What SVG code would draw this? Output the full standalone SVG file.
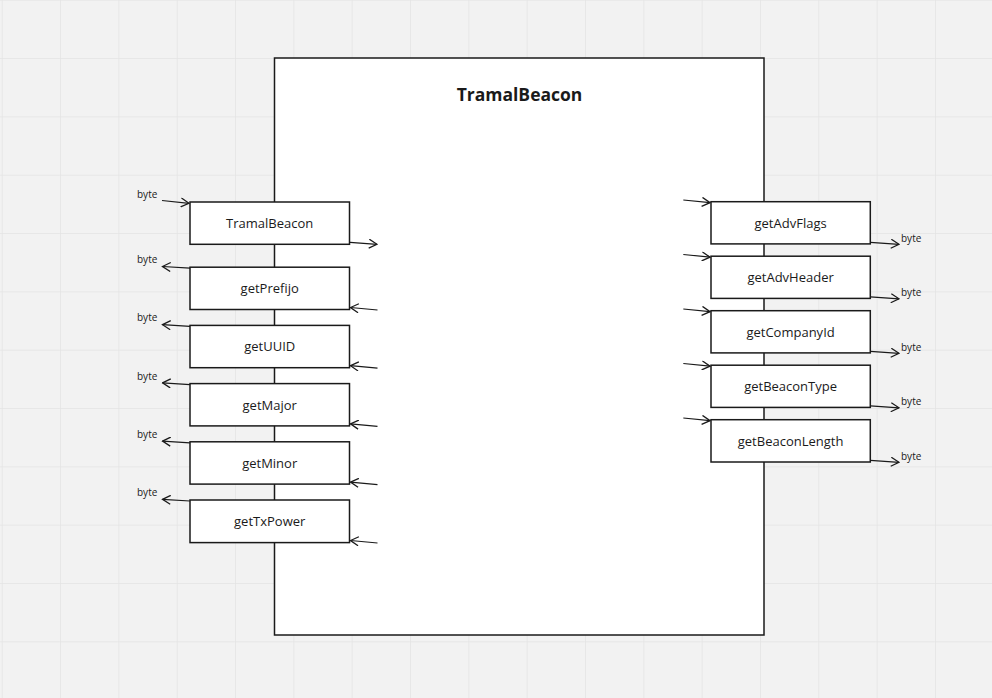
<svg xmlns="http://www.w3.org/2000/svg" width="992" height="698" viewBox="0 0 992 698">
<defs>
<pattern id="grid" x="1.7" y="-0.3" width="58.33" height="58.33" patternUnits="userSpaceOnUse">
<path d="M0 0V58.33M0 0H58.33" fill="none" stroke="#e4e4e4" stroke-width="1.5"/>
</pattern>
<marker id="ah" viewBox="0 0 10 10" refX="9" refY="5" markerWidth="10" markerHeight="10" markerUnits="userSpaceOnUse" orient="auto">
<path d="M1 0.5L9 5L1 9.5" fill="none" stroke="#1a1a1a" stroke-width="1.3"/>
</marker>
<style>
.nd{fill:#fff;stroke:#1a1a1a;stroke-width:1.5}
.lb{font-family:"Open Sans","Noto Sans",sans-serif;font-size:13px;fill:#1a1a1a;text-anchor:middle}
.by{font-family:"Open Sans","Noto Sans",sans-serif;font-size:10px;fill:#1a1a1a}
.cn{fill:none;stroke:#1a1a1a;stroke-width:1.2;marker-end:url(#ah)}
</style>
</defs>
<rect width="992" height="698" fill="#f2f2f2"/>
<rect width="992" height="698" fill="url(#grid)"/>
<g id="main">
<rect x="274.5" y="58" width="489.5" height="577" class="nd"/>
<text x="519.5" y="101" class="lb" style="font-size:17.5px;font-weight:bold">TramalBeacon</text>
</g>
<g id="n-tramalbeacon"><rect x="190" y="202" width="159.5" height="42.3" class="nd"/><text x="269.7" y="228" class="lb">TramalBeacon</text></g>
<g id="n-getprefijo"><rect x="190" y="267.2" width="159.5" height="42.3" class="nd"/><text x="269.7" y="293.2" class="lb">getPrefijo</text></g>
<g id="n-getuuid"><rect x="190" y="325.4" width="159.5" height="42.3" class="nd"/><text x="269.7" y="351.4" class="lb">getUUID</text></g>
<g id="n-getmajor"><rect x="190" y="383.6" width="159.5" height="42.3" class="nd"/><text x="269.7" y="409.6" class="lb">getMajor</text></g>
<g id="n-getminor"><rect x="190" y="441.8" width="159.5" height="42.3" class="nd"/><text x="269.7" y="467.8" class="lb">getMinor</text></g>
<g id="n-gettxpower"><rect x="190" y="500" width="159.5" height="42.6" class="nd"/><text x="269.7" y="526" class="lb">getTxPower</text></g>
<g id="n-getadvflags"><rect x="711" y="201.7" width="159.3" height="42.2" class="nd"/><text x="790.6" y="227.7" class="lb">getAdvFlags</text></g>
<g id="n-getadvheader"><rect x="711" y="256.2" width="159.3" height="42.2" class="nd"/><text x="790.6" y="282.2" class="lb">getAdvHeader</text></g>
<g id="n-getcompanyid"><rect x="711" y="310.7" width="159.3" height="42.2" class="nd"/><text x="790.6" y="336.7" class="lb">getCompanyId</text></g>
<g id="n-getbeacontype"><rect x="711" y="365.2" width="159.3" height="42.2" class="nd"/><text x="790.6" y="391.2" class="lb">getBeaconType</text></g>
<g id="n-getbeaconlength"><rect x="711" y="419.7" width="159.3" height="42.3" class="nd"/><text x="790.6" y="445.7" class="lb">getBeaconLength</text></g>
<g id="connectors">
<path class="cn" d="M162 200.5L189 203.3"/>
<path class="cn" d="M350 242.3L377 244.3"/>
<path class="cn" d="M190 268.2L162.5 266.5"/>
<path class="cn" d="M377.5 310L350.5 307.5"/>
<path class="cn" d="M190 326.4L162.5 324.7"/>
<path class="cn" d="M377.5 368.2L350.5 365.7"/>
<path class="cn" d="M190 384.6L162.5 382.9"/>
<path class="cn" d="M377.5 426.4L350.5 423.9"/>
<path class="cn" d="M190 442.8L162.5 441.1"/>
<path class="cn" d="M377.5 484.6L350.5 482.1"/>
<path class="cn" d="M190 501L162.5 499.3"/>
<path class="cn" d="M377.5 543L350.5 540.5"/>
<path class="cn" d="M683.3 200L710 202.7"/>
<path class="cn" d="M683.3 254.5L710 257.2"/>
<path class="cn" d="M683.3 309L710 311.7"/>
<path class="cn" d="M683.3 363.5L710 366.2"/>
<path class="cn" d="M683.3 418L710 420.7"/>
<path class="cn" d="M870.3 242.3L899 244.3"/>
<path class="cn" d="M870.3 296.8L899 298.8"/>
<path class="cn" d="M870.3 351.3L899 353.3"/>
<path class="cn" d="M870.3 405.8L899 407.8"/>
<path class="cn" d="M870.3 460.3L899 462.3"/>
</g>
<g id="labels">
<text x="137" y="197.5" class="by">byte</text>
<text x="137" y="262.5" class="by">byte</text>
<text x="137" y="321" class="by">byte</text>
<text x="137" y="380" class="by">byte</text>
<text x="137" y="438" class="by">byte</text>
<text x="137" y="496" class="by">byte</text>
<text x="901" y="241.5" class="by">byte</text>
<text x="901" y="296" class="by">byte</text>
<text x="901" y="350.5" class="by">byte</text>
<text x="901" y="405" class="by">byte</text>
<text x="901" y="459.5" class="by">byte</text>
</g>
</svg>
